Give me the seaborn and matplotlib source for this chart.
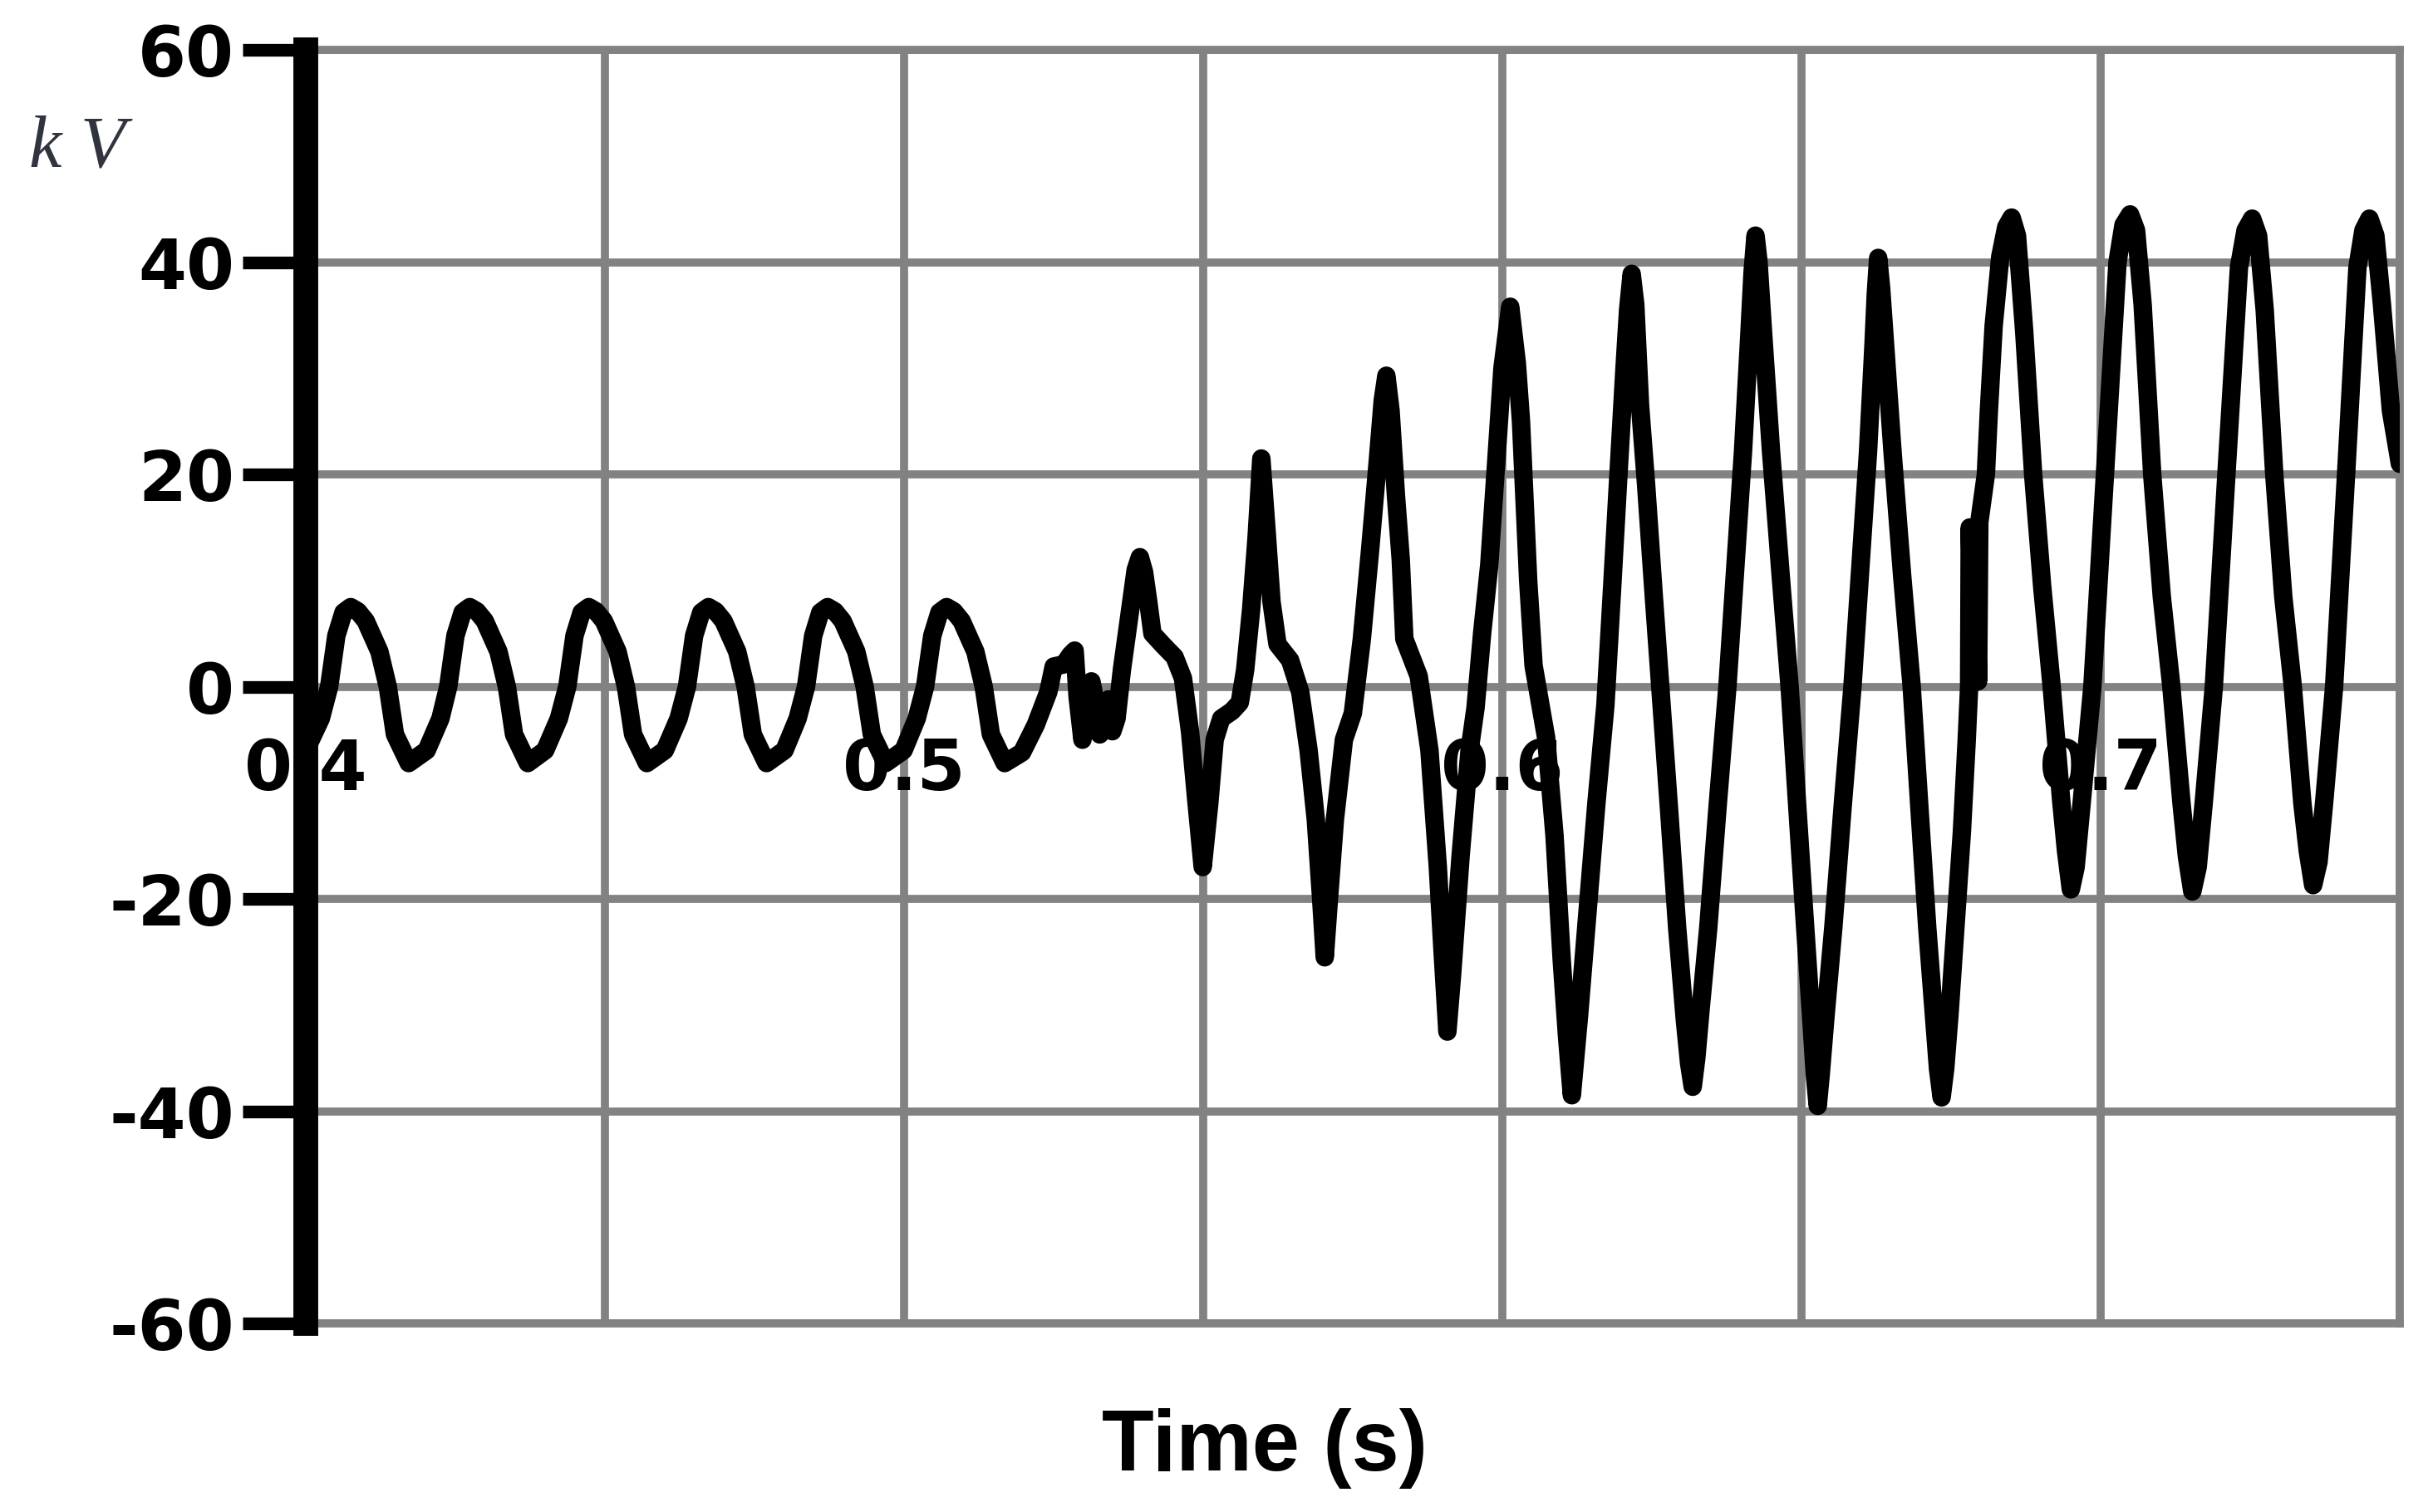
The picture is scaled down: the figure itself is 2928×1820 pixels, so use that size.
import pandas as pd
import matplotlib
matplotlib.use("Agg")
import matplotlib.pyplot as plt
import seaborn as sns

# waveform: time (s) vs voltage (kV)
pre_t = [0.4000, 0.4025, 0.4039, 0.4051, 0.4063, 0.4075, 0.4087, 0.4100, 0.4123, 0.4137, 0.4149, 0.4172,
         0.4202, 0.4225, 0.4238, 0.4250, 0.4262, 0.4274, 0.4286, 0.4299, 0.4322, 0.4336, 0.4348, 0.4371,
         0.4400, 0.4423, 0.4437, 0.4449, 0.4461, 0.4473, 0.4485, 0.4498, 0.4521, 0.4535, 0.4547, 0.4570,
         0.4600, 0.4623, 0.4637, 0.4649, 0.4661, 0.4673, 0.4685, 0.4698, 0.4721, 0.4735, 0.4747, 0.4770,
         0.4800, 0.4822, 0.4836, 0.4848, 0.4860, 0.4872, 0.4884, 0.4897, 0.4920, 0.4934, 0.4946, 0.4969,
         0.4999, 0.5021, 0.5035, 0.5047, 0.5059, 0.5071, 0.5083, 0.5096, 0.5119, 0.5133, 0.5145, 0.5168]
pre_kv = [-6.0, -3.0, 0.0, 4.8, 7.0, 7.5, 7.1, 6.2, 3.3, 0.0, -4.5, -7.2,
          -6.0, -3.0, 0.0, 4.8, 7.0, 7.5, 7.1, 6.2, 3.3, 0.0, -4.5, -7.2,
          -6.0, -3.0, 0.0, 4.8, 7.0, 7.5, 7.1, 6.2, 3.3, 0.0, -4.5, -7.2,
          -6.0, -3.0, 0.0, 4.8, 7.0, 7.5, 7.1, 6.2, 3.3, 0.0, -4.5, -7.2,
          -6.0, -3.0, 0.0, 4.8, 7.0, 7.5, 7.1, 6.2, 3.3, 0.0, -4.5, -7.2,
          -6.0, -3.0, 0.0, 4.8, 7.0, 7.5, 7.1, 6.2, 3.3, 0.0, -4.5, -7.2]

# disturbance and first swings
fault_t = [0.5197, 0.5220, 0.5241, 0.5250, 0.5267, 0.5278, 0.5285, 0.5290, 0.5298, 0.5306, 0.5313,
           0.5320, 0.5327, 0.5334, 0.5341, 0.5348, 0.5355, 0.5364, 0.5378, 0.5387, 0.5394, 0.5401,
           0.5408, 0.5415, 0.5433, 0.5452, 0.5466, 0.5478, 0.5488, 0.5499, 0.5510, 0.5519, 0.5530,
           0.5548, 0.5561, 0.5570, 0.5580, 0.5589, 0.5597, 0.5606, 0.5614, 0.5624, 0.5645, 0.5662,
           0.5676, 0.5688, 0.5697, 0.5703, 0.5710, 0.5720, 0.5735, 0.5750, 0.5765, 0.5779, 0.5792,
           0.5800, 0.5806, 0.5813, 0.5822, 0.5830, 0.5836, 0.5860, 0.5878, 0.5892, 0.5900, 0.5908,
           0.5916, 0.5930, 0.5945, 0.5955, 0.5966, 0.5978, 0.5990, 0.6000, 0.6013, 0.6024, 0.6031,
           0.6043, 0.6052, 0.6073, 0.6087, 0.6099, 0.6108, 0.6116]
fault_kv = [-6.2, -3.6, -0.5, 1.9, 2.1, 3.0, 3.4, -1.0, -5.0, -2.0, 0.5,
            -1.5, -4.5, -2.5, -1.2, -4.2, -3.0, 1.6, 7.3, 11.0, 12.2, 10.8,
            8.0, 5.0, 3.9, 2.8, 0.8, -4.3, -10.5, -17.0, -11.0, -5.0, -3.0,
            -2.3, -1.5, 1.6, 7.3, 14.0, 21.5, 14.5, 8.0, 4.0, 2.5, -0.5,
            -6.0, -12.5, -20.0, -25.5, -20.0, -12.5, -5.0, -2.5, 4.5, 13.0, 21.5,
            27.0, 29.3, 26.0, 18.0, 12.0, 4.5, 1.0, -6.0, -17.0, -25.0, -32.5,
            -27.0, -16.0, -6.0, -2.0, 5.0, 11.5, 21.5, 30.0, 35.8, 30.5, 25.0,
            10.0, 2.0, -4.8, -14.0, -25.7, -33.0, -38.5]

# large oscillations up to the jump near 0.678 s
swing_t = [0.6128, 0.6141, 0.6157, 0.6172, 0.6183, 0.6193, 0.6204, 0.6210, 0.6216,
           0.6222, 0.6230, 0.6240, 0.6253, 0.6266, 0.6279, 0.6292, 0.6305, 0.6312, 0.6318,
           0.6324, 0.6331, 0.6344, 0.6360, 0.6376, 0.6389, 0.6402, 0.6413, 0.6418, 0.6423,
           0.6428, 0.6436, 0.6449, 0.6465, 0.6480, 0.6493, 0.6506, 0.6517, 0.6522, 0.6527,
           0.6532, 0.6540, 0.6553, 0.6569, 0.6585, 0.6598, 0.6611, 0.6620, 0.6624, 0.6628,
           0.6633, 0.6641, 0.6652, 0.6668, 0.6684, 0.6697, 0.6710, 0.6722, 0.6728, 0.6734,
           0.6740, 0.6747, 0.6757, 0.6768, 0.6776, 0.6780, 0.6781, 0.6787, 0.6789, 0.6795,
           0.6797, 0.6808, 0.6813, 0.6821, 0.6832, 0.6842, 0.6851]
swing_kv = [-31.0, -22.0, -11.0, -1.8, 9.0, 19.1, 30.0, 35.5, 38.9,
            36.0, 26.5, 19.1, 8.5, -1.8, -12.0, -22.7, -31.5, -35.5, -37.7,
            -35.0, -30.5, -22.7, -11.0, 0.0, 11.0, 22.1, 33.5, 39.0, 42.5,
            40.0, 33.0, 22.1, 10.5, 0.0, -11.5, -22.7, -32.0, -36.5, -39.5,
            -36.5, -31.0, -22.7, -11.0, 0.0, 11.0, 22.1, 32.0, 37.0, 40.4,
            37.5, 31.0, 22.1, 10.5, 0.0, -11.5, -22.7, -31.5, -36.0, -38.7,
            -36.0, -31.0, -22.7, -13.6, -5.0, 0.0, 15.0, 0.5, 15.0, 0.5,
            15.5, 20.0, 26.0, 34.0, 40.5, 43.3, 44.2]

# offset oscillation after the jump
post_t = [0.6860, 0.6872, 0.6887, 0.6902, 0.6918, 0.6934, 0.6942, 0.6950,
          0.6958, 0.6968, 0.6986, 0.7007, 0.7028, 0.7038, 0.7049,
          0.7059, 0.7070, 0.7086, 0.7102, 0.7118, 0.7135, 0.7144, 0.7153,
          0.7162, 0.7172, 0.7189, 0.7210, 0.7231, 0.7242, 0.7253,
          0.7263, 0.7274, 0.7290, 0.7305, 0.7321, 0.7337, 0.7346, 0.7355,
          0.7364, 0.7374, 0.7390, 0.7410, 0.7429, 0.7439, 0.7449,
          0.7459, 0.7470, 0.7485, 0.7500]
post_kv = [42.5, 33.5, 20.0, 9.5, 0.0, -10.8, -15.5, -19.1,
           -17.0, -11.0, 0.0, 20.0, 40.0, 43.5, 44.5,
           43.0, 36.0, 20.0, 8.5, 0.0, -11.0, -16.0, -19.3,
           -17.0, -11.0, 0.0, 20.0, 39.5, 43.0, 44.1,
           42.5, 35.5, 20.0, 8.5, 0.0, -11.0, -15.5, -18.7,
           -16.5, -10.5, 0.0, 20.0, 39.5, 43.0, 44.1,
           42.5, 36.0, 26.0, 21.0]

grid_t = [0.40, 0.45, 0.50, 0.55, 0.60, 0.65, 0.70, 0.75]
x_labels = ["0.4", "0.5", "0.6", "0.7"]
x_label_pos = [0.4, 0.5, 0.6, 0.7]
y_ticks = [-60, -40, -20, 0, 20, 40, 60]
y_labels = ["-60", "-40", "-20", "0", "20", "40", "60"]

df = pd.DataFrame({
    "t": pre_t + fault_t + swing_t + post_t,
    "kv": pre_kv + fault_kv + swing_kv + post_kv,
})

sns.set_style("white")
plt.rcParams["font.family"] = ["DejaVu Sans"]

fig = plt.figure(figsize=(29.28, 18.2), dpi=100)
ax = fig.add_axes([0.1257, 0.1247, 0.8607, 0.8423])

grid_col = "#828282"
sns.lineplot(data=df, x="t", y="kv", sort=False, estimator=None, ax=ax,
             color="black", zorder=4)
wave = ax.lines[-1]
wave.set_linewidth(16)
wave.set_solid_joinstyle("round")
wave.set_solid_capstyle("round")

ax.set_xlim(0.4, 0.75)
ax.set_ylim(-60, 60)
ax.set_xticks(grid_t)
ax.set_xticklabels([])
ax.tick_params(axis="x", length=0)
ax.set_yticks(y_ticks)
ax.set_yticklabels(y_labels, fontsize=60, fontweight="bold")
ax.tick_params(axis="y", left=True, direction="out", length=55, width=11,
               color="black", labelcolor="black", pad=7)
ax.grid(True, color=grid_col, linewidth=7)
ax.set_axisbelow(True)
ax.set_xlabel("")
ax.set_ylabel("")

for side in ["top", "right", "bottom"]:
    ax.spines[side].set_color(grid_col)
    ax.spines[side].set_linewidth(7)
ax.spines["left"].set_color("black")
ax.spines["left"].set_linewidth(21.5)
ax.spines["left"].set_zorder(6)

for xp, lab in zip(x_label_pos, x_labels):
    ax.text(xp, -7.9, lab, ha="center", va="center", fontsize=60,
            fontweight="bold", color="black", zorder=3)

fig.text(0.0318, 0.8896, "k V", ha="center", va="baseline", fontsize=64,
         family="Liberation Serif", style="italic", color="#30343f")
fig.text(0.5198, 0.0275, "Time (s)", ha="center", va="baseline", fontsize=74,
         family="Liberation Sans", fontweight="bold", color="black")

fig.savefig("out.png", dpi=100, facecolor="white")
